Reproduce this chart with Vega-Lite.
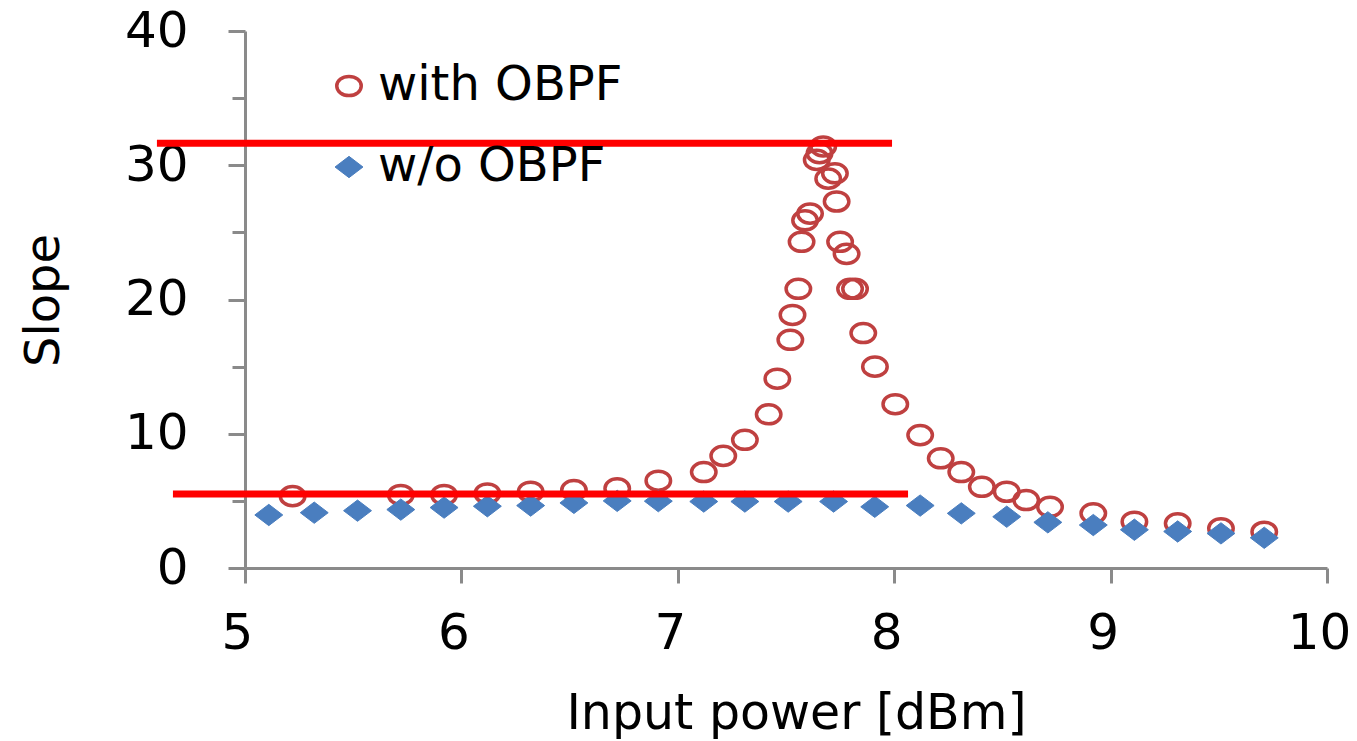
{
  "$schema": "https://vega.github.io/schema/vega-lite/v6.json",
  "width": 1082,
  "height": 537,
  "autosize": {"type": "none"},
  "padding": {"left": 245, "top": 31, "right": 30, "bottom": 173},
  "background": "white",
  "config": {"view": {"stroke": null}, "font": "DejaVu Sans"},
  "datasets": {
    "points": [
      {"series": "with OBPF", "power": 5.22, "slope": 5.35},
      {"series": "with OBPF", "power": 5.72, "slope": 5.44},
      {"series": "with OBPF", "power": 5.92, "slope": 5.44},
      {"series": "with OBPF", "power": 6.12, "slope": 5.55},
      {"series": "with OBPF", "power": 6.32, "slope": 5.68},
      {"series": "with OBPF", "power": 6.52, "slope": 5.8},
      {"series": "with OBPF", "power": 6.72, "slope": 5.93},
      {"series": "with OBPF", "power": 6.91, "slope": 6.5},
      {"series": "with OBPF", "power": 7.12, "slope": 7.15},
      {"series": "with OBPF", "power": 7.21, "slope": 8.35},
      {"series": "with OBPF", "power": 7.31, "slope": 9.55},
      {"series": "with OBPF", "power": 7.42, "slope": 11.45},
      {"series": "with OBPF", "power": 7.46, "slope": 14.1},
      {"series": "with OBPF", "power": 7.52, "slope": 17.0},
      {"series": "with OBPF", "power": 7.53, "slope": 18.85},
      {"series": "with OBPF", "power": 7.557, "slope": 20.8},
      {"series": "with OBPF", "power": 7.572, "slope": 24.3},
      {"series": "with OBPF", "power": 7.588, "slope": 25.9},
      {"series": "with OBPF", "power": 7.611, "slope": 26.4},
      {"series": "with OBPF", "power": 7.642, "slope": 30.4},
      {"series": "with OBPF", "power": 7.655, "slope": 30.9},
      {"series": "with OBPF", "power": 7.672, "slope": 31.4},
      {"series": "with OBPF", "power": 7.695, "slope": 29.0},
      {"series": "with OBPF", "power": 7.726, "slope": 29.4},
      {"series": "with OBPF", "power": 7.734, "slope": 27.3},
      {"series": "with OBPF", "power": 7.75, "slope": 24.3},
      {"series": "with OBPF", "power": 7.78, "slope": 23.4},
      {"series": "with OBPF", "power": 7.796, "slope": 20.8},
      {"series": "with OBPF", "power": 7.819, "slope": 20.8},
      {"series": "with OBPF", "power": 7.857, "slope": 17.5},
      {"series": "with OBPF", "power": 7.911, "slope": 15.0},
      {"series": "with OBPF", "power": 8.005, "slope": 12.2},
      {"series": "with OBPF", "power": 8.12, "slope": 9.9},
      {"series": "with OBPF", "power": 8.215, "slope": 8.17},
      {"series": "with OBPF", "power": 8.31, "slope": 7.15},
      {"series": "with OBPF", "power": 8.405, "slope": 6.05},
      {"series": "with OBPF", "power": 8.52, "slope": 5.68},
      {"series": "with OBPF", "power": 8.61, "slope": 5.06},
      {"series": "with OBPF", "power": 8.72, "slope": 4.56},
      {"series": "with OBPF", "power": 8.92, "slope": 4.07},
      {"series": "with OBPF", "power": 9.11, "slope": 3.45},
      {"series": "with OBPF", "power": 9.31, "slope": 3.33},
      {"series": "with OBPF", "power": 9.51, "slope": 2.96},
      {"series": "with OBPF", "power": 9.71, "slope": 2.7},
      {"series": "w/o OBPF", "power": 5.11, "slope": 3.95},
      {"series": "w/o OBPF", "power": 5.32, "slope": 4.12},
      {"series": "w/o OBPF", "power": 5.52, "slope": 4.27},
      {"series": "w/o OBPF", "power": 5.72, "slope": 4.35},
      {"series": "w/o OBPF", "power": 5.92, "slope": 4.5},
      {"series": "w/o OBPF", "power": 6.12, "slope": 4.6},
      {"series": "w/o OBPF", "power": 6.32, "slope": 4.65},
      {"series": "w/o OBPF", "power": 6.52, "slope": 4.85},
      {"series": "w/o OBPF", "power": 6.72, "slope": 5.0},
      {"series": "w/o OBPF", "power": 6.91, "slope": 4.98},
      {"series": "w/o OBPF", "power": 7.12, "slope": 4.95},
      {"series": "w/o OBPF", "power": 7.31, "slope": 4.95},
      {"series": "w/o OBPF", "power": 7.51, "slope": 4.95},
      {"series": "w/o OBPF", "power": 7.72, "slope": 4.95},
      {"series": "w/o OBPF", "power": 7.91, "slope": 4.56},
      {"series": "w/o OBPF", "power": 8.12, "slope": 4.65},
      {"series": "w/o OBPF", "power": 8.31, "slope": 4.07},
      {"series": "w/o OBPF", "power": 8.52, "slope": 3.82},
      {"series": "w/o OBPF", "power": 8.71, "slope": 3.4},
      {"series": "w/o OBPF", "power": 8.92, "slope": 3.2},
      {"series": "w/o OBPF", "power": 9.11, "slope": 2.85},
      {"series": "w/o OBPF", "power": 9.31, "slope": 2.72},
      {"series": "w/o OBPF", "power": 9.51, "slope": 2.58},
      {"series": "w/o OBPF", "power": 9.71, "slope": 2.25}
    ],
    "lines": [
      {"x": 4.593, "x2": 7.99, "y": 31.64},
      {"x": 4.667, "x2": 8.064, "y": 5.52}
    ]
  },
  "layer": [
    {
      "data": {"name": "points"},
      "mark": {"type": "point", "size": 600, "opacity": 1},
      "encoding": {
        "x": {
          "field": "power", "type": "quantitative",
          "scale": {"domain": [5, 10], "nice": false, "zero": false},
          "axis": {
            "values": [5, 5.5, 6, 6.5, 7, 7.5, 8, 8.5, 9, 9.5, 10],
            "format": "d",
            "labelExpr": "datum.value % 1 === 0 ? datum.label : ''",
            "grid": false,
            "domainColor": "#8A8A8A", "domainWidth": 3,
            "tickColor": "#8A8A8A", "tickWidth": 3,
            "tickSize": {"condition": {"test": "datum.value % 1 !== 0", "value": 10}, "value": 15},
            "labelFontSize": 50, "labelColor": "black", "labelPadding": 25, "labelOffset": -8,
            "labelFlush": false, "labelOverlap": false, "labelBound": false,
            "title": "Input power [dBm]", "titleFontSize": 49, "titleFontWeight": "normal", "titleColor": "black",
            "titleX": 551, "titleY": 160, "titleBaseline": "alphabetic", "titleAlign": "center"
          }
        },
        "y": {
          "field": "slope", "type": "quantitative",
          "scale": {"domain": [0, 40], "nice": false},
          "axis": {
            "values": [0, 5, 10, 15, 20, 25, 30, 35, 40],
            "labelExpr": "datum.value % 10 === 0 ? datum.label : ''",
            "grid": false,
            "domainColor": "#8A8A8A", "domainWidth": 3,
            "tickColor": "#8A8A8A", "tickWidth": 3,
            "tickSize": {"condition": {"test": "datum.value % 10 !== 0", "value": 13}, "value": 17},
            "labelFontSize": 50, "labelColor": "black", "labelPadding": 40,
            "labelFlush": false, "labelOverlap": false, "labelBound": false,
            "title": "Slope", "titleFontSize": 48, "titleFontWeight": "normal", "titleColor": "black",
            "titleX": -187, "titleY": 269, "titleAngle": 270, "titleBaseline": "alphabetic", "titleAlign": "center"
          }
        },
        "shape": {
          "field": "series", "type": "nominal",
          "scale": {"domain": ["with OBPF", "w/o OBPF"], "range": ["M1,0A1,0.78,0,1,1,-1,0A1,0.78,0,1,1,1,0Z", "M-1.14,0L0,-0.87L1.14,0L0,0.87Z"]},
          "legend": {
            "orient": "none", "legendX": 80, "legendY": 31, "title": null,
            "labelFontSize": 48, "labelColor": "black", "labelLimit": 600,
            "rowPadding": 33, "labelOffset": 5, "symbolSize": 600, "padding": 0
          }
        },
        "fill": {
          "field": "series", "type": "nominal",
          "scale": {"domain": ["with OBPF", "w/o OBPF"], "range": ["transparent", "#4A7EBF"]}
        },
        "stroke": {
          "field": "series", "type": "nominal",
          "scale": {"domain": ["with OBPF", "w/o OBPF"], "range": ["#BF4040", "#4A7EBF"]}
        },
        "strokeWidth": {
          "field": "series", "type": "nominal",
          "scale": {"type": "ordinal", "domain": ["with OBPF", "w/o OBPF"], "range": [3.5, 1]}
        }
      }
    },
    {
      "data": {"name": "lines"},
      "mark": {"type": "rule", "color": "#FF0000", "strokeWidth": 7},
      "encoding": {
        "x": {"field": "x", "type": "quantitative"},
        "x2": {"field": "x2"},
        "y": {"field": "y", "type": "quantitative"}
      }
    }
  ]
}
